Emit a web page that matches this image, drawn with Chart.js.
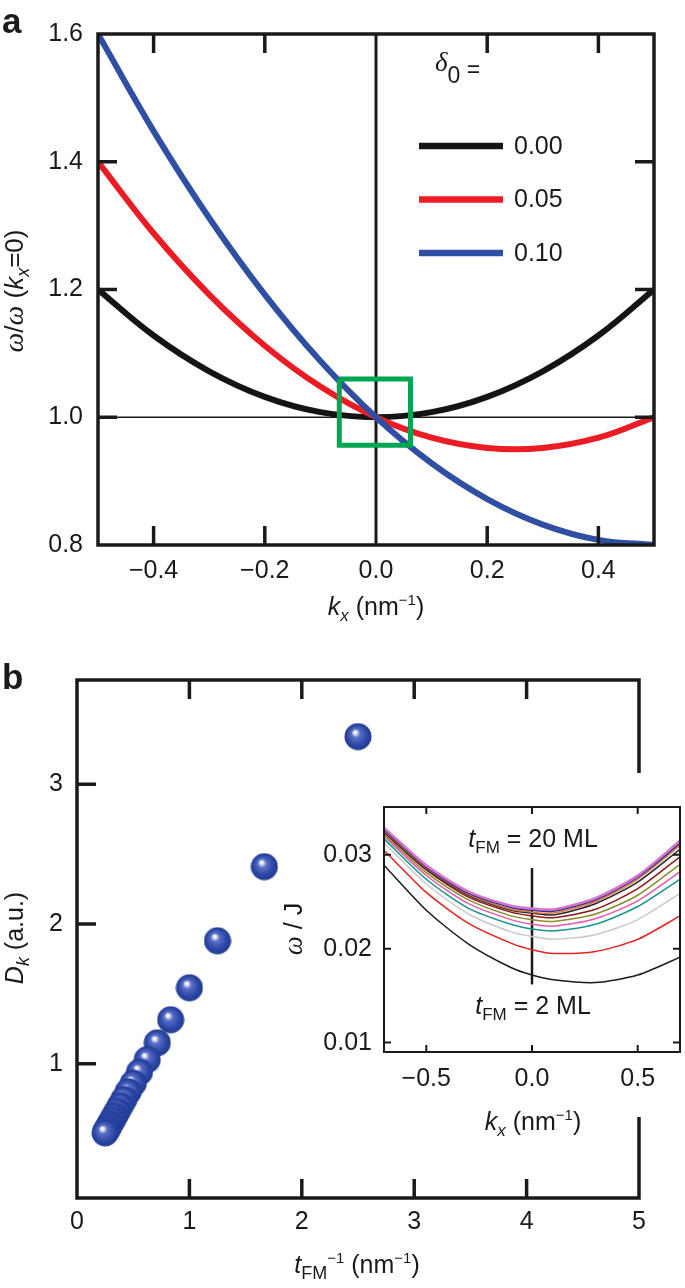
<!DOCTYPE html>
<html>
<head>
<meta charset="utf-8">
<script src="https://cdn.jsdelivr.net/npm/chart.js@4.4.0/dist/chart.umd.min.js"></script>
<style>
  body { margin: 0; background: #fff; }
  #figura { position: relative; width: 685px; height: 1288px; overflow: hidden; }
  canvas { position: absolute; }
</style>
</head>
<body>
<div id="figura">
  <canvas id="chartA" width="685" height="640" style="left:0;top:0"></canvas>
  <canvas id="chartB" width="685" height="648" style="left:0;top:640px"></canvas>
  <canvas id="inset" width="403" height="380" style="left:282px;top:773px"></canvas>
</div>
<script>
// ---- dados painel a ----
const kA = [-0.5, -0.4, -0.3, -0.2, -0.1, 0.0, 0.1, 0.2, 0.3, 0.4, 0.5];
const wDelta000 = [1.200, 1.128, 1.072, 1.032, 1.008, 1.000, 1.008, 1.032, 1.072, 1.128, 1.200];
const wDelta005 = [1.400, 1.288, 1.192, 1.112, 1.048, 1.000, 0.968, 0.952, 0.952, 0.968, 1.000];
const wDelta010 = [1.600, 1.448, 1.312, 1.192, 1.088, 1.000, 0.928, 0.872, 0.832, 0.808, 0.800];
const delta0Labels = ["0.00", "0.05", "0.10"];
const aColors = ["#141414", "#ec1c24", "#2f4fa3"];
const aTicksX = [-0.4, -0.2, 0.0, 0.2, 0.4];
const aTicksY = [0.8, 1.0, 1.2, 1.4, 1.6];
// quadrado verde (em unidades dos eixos)
const boxK = [-0.066, 0.062, 0.062, -0.066, -0.066];
const boxW = [1.060, 1.060, 0.956, 0.956, 1.060];

// ---- dados painel b ----
const invTFM = [2.5, 1.667, 1.25, 1.0, 0.833, 0.714, 0.625, 0.556, 0.5, 0.455,
  0.417, 0.385, 0.357, 0.333, 0.313, 0.294, 0.278, 0.263, 0.25];
const Dk = [3.34, 2.41, 1.88, 1.544, 1.315, 1.15, 1.03, 0.94, 0.86, 0.80,
  0.745, 0.70, 0.66, 0.625, 0.595, 0.57, 0.545, 0.525, 0.506];
const bTicksX = [0, 1, 2, 3, 4, 5];
const bTicksY = [1, 2, 3];

// ---- dados inset ----
const kIn = [-0.7, -0.5, -0.3, -0.1, 0.0, 0.1, 0.3, 0.5, 0.7];
const insetCurves = [
  [0.0289, 0.0241, 0.0205, 0.0180, 0.0172, 0.0167, 0.0164, 0.0172, 0.0191],
  [0.0305, 0.0260, 0.0227, 0.0206, 0.0199, 0.0195, 0.0197, 0.0210, 0.0235],
  [0.0313, 0.0269, 0.0237, 0.0218, 0.0213, 0.0210, 0.0215, 0.0231, 0.0259],
  [0.0317, 0.0274, 0.0243, 0.0226, 0.0221, 0.0219, 0.0226, 0.0245, 0.0274],
  [0.0320, 0.0278, 0.0248, 0.0231, 0.0226, 0.0224, 0.0232, 0.0251, 0.0282],
  [0.0322, 0.0281, 0.0252, 0.0235, 0.0231, 0.0229, 0.0237, 0.0257, 0.0290],
  [0.0324, 0.0284, 0.0255, 0.0239, 0.0235, 0.0233, 0.0242, 0.0264, 0.0298],
  [0.0325, 0.0285, 0.0257, 0.0241, 0.0238, 0.0236, 0.0248, 0.0271, 0.0306],
  [0.0326, 0.0286, 0.0258, 0.0242, 0.0239, 0.0238, 0.0250, 0.0274, 0.0310],
  [0.0327, 0.0287, 0.0259, 0.0244, 0.0241, 0.0240, 0.0252, 0.0276, 0.0312],
  [0.0328, 0.0288, 0.0260, 0.0245, 0.0242, 0.0241, 0.0253, 0.0277, 0.0314],
  [0.0329, 0.0289, 0.0261, 0.0246, 0.0243, 0.0242, 0.0254, 0.0278, 0.0315]
];
const insetColors = ["#1a1a1a", "#e3231f", "#c9c9c9", "#17948f", "#e35aa8", "#8c8a2c",
  "#8e1717", "#222230", "#e0783a", "#2b2f78", "#7a5aa8", "#d873d0"];
const inTicksX = [-0.5, 0.0, 0.5];
const inTicksY = [0.01, 0.02, 0.03];

const SANS = '"Liberation Sans", Arial, Helvetica, sans-serif';
const SERIF = '"Liberation Serif", "DejaVu Serif", serif';
const INK = "#1a1a1a";
const TICK_SIZE = 25;
function f(size, style) { return (style || "") + " " + size + "px " + SANS; }
function fs(size) { return "italic " + size + "px " + SERIF; }

Chart.defaults.font.family = SANS;
Chart.defaults.color = INK;

function fmtSigned(v) { return (v < 0 ? "\u2212" : "") + Math.abs(v).toFixed(1); }

// texto com partes (itálico, subscrito, sobrescrito)
function rich(ctx, runs, x, y, rot, align) {
  ctx.save();
  ctx.translate(x, y);
  if (rot) ctx.rotate(rot);
  ctx.textAlign = "left";
  ctx.textBaseline = "alphabetic";
  ctx.fillStyle = INK;
  let w = 0;
  runs.forEach(r => { ctx.font = r[1]; w += ctx.measureText(r[0]).width; });
  let cx = align === "left" ? 0 : -w / 2;
  runs.forEach(r => {
    ctx.font = r[1];
    ctx.fillText(r[0], cx, r[2] || 0);
    cx += ctx.measureText(r[0]).width;
  });
  ctx.restore();
}

// moldura com ticks para dentro
function framePlugin(cfg) {
  return {
    id: "moldura",
    beforeDraw(chart) {
      if (cfg.bg) cfg.bg(chart);
    },
    beforeDatasetsDraw(chart) {
      if (cfg.under) cfg.under(chart);
    },
    afterDatasetsDraw(chart) {
      const { ctx, chartArea: a, scales } = chart;
      ctx.save();
      ctx.strokeStyle = INK;
      ctx.lineWidth = cfg.lw;
      ctx.lineJoin = "miter";
      ctx.lineCap = "butt";
      ctx.strokeRect(a.left, a.top, a.right - a.left, a.bottom - a.top);
      ctx.beginPath();
      cfg.xMarks.forEach(v => {
        const px = scales.x.getPixelForValue(v);
        ctx.moveTo(px, a.top); ctx.lineTo(px, a.top + cfg.tl);
        ctx.moveTo(px, a.bottom); ctx.lineTo(px, a.bottom - cfg.tl);
      });
      cfg.yMarks.forEach(v => {
        const py = scales.y.getPixelForValue(v);
        ctx.moveTo(a.left, py); ctx.lineTo(a.left + cfg.tl, py);
        if (cfg.rightMarks) { ctx.moveTo(a.right, py); ctx.lineTo(a.right - cfg.tl, py); }
      });
      ctx.stroke();
      ctx.restore();
      if (cfg.over) cfg.over(chart);
    }
  };
}

function linearAxis(min, max, ticksList, fmt, fitSize, pad, horizontal) {
  return {
    type: "linear",
    min: min,
    max: max,
    grid: { display: false, drawTicks: false },
    border: { display: false },
    afterBuildTicks: s => { s.ticks = ticksList.map(v => ({ value: v })); },
    afterFit: s => { if (horizontal) s.height = fitSize; else s.width = fitSize; },
    ticks: { padding: pad, maxRotation: 0, autoSkip: false, font: { size: TICK_SIZE }, color: INK, callback: v => fmt(v) }
  };
}

const baseOpts = {
  responsive: false,
  animation: false,
  events: [],
  plugins: { legend: { display: false }, tooltip: { enabled: false } }
};

// ===== Painel a =====
const seriesA = [wDelta000, wDelta005, wDelta010];
const dsA = seriesA.map((arr, i) => ({
  data: kA.map((k, j) => ({ x: k, y: arr[j] })),
  borderColor: aColors[i],
  borderWidth: 6,
  pointRadius: 0,
  tension: 0.4,
  order: 3 - i
}));
dsA.push({
  data: boxK.map((k, j) => ({ x: k, y: boxW[j] })),
  borderColor: "#00a651",
  borderWidth: 5,
  pointRadius: 0,
  tension: 0,
  borderJoinStyle: "miter",
  order: 0
});

new Chart(document.getElementById("chartA"), {
  type: "line",
  data: { datasets: dsA },
  options: Object.assign({}, baseOpts, {
    layout: { padding: { left: 0, top: 34, right: 31, bottom: 0 } },
    scales: {
      x: linearAxis(-0.5, 0.5, aTicksX, fmtSigned, 95, 11, true),
      y: linearAxis(0.8, 1.6, aTicksY, v => v.toFixed(1), 98, 15, false)
    }
  }),
  plugins: [framePlugin({
    lw: 3.5, tl: 19, rightMarks: true,
    xMarks: [-0.4, -0.2, 0.2, 0.4],
    yMarks: [1.0, 1.2, 1.4],
    under(chart) {
      const { ctx, chartArea: a, scales } = chart;
      const x0 = scales.x.getPixelForValue(0);
      const y1 = scales.y.getPixelForValue(1.0);
      ctx.save();
      ctx.strokeStyle = INK;
      ctx.lineWidth = 1.6;
      ctx.beginPath(); ctx.moveTo(a.left, y1); ctx.lineTo(a.right, y1); ctx.stroke();
      ctx.lineWidth = 3;
      ctx.beginPath(); ctx.moveTo(x0, a.top); ctx.lineTo(x0, a.bottom); ctx.stroke();
      ctx.restore();
    },
    over(chart) {
      const { ctx, chartArea: a } = chart;
      // legenda
      rich(ctx, [["\u03b4", fs(27), 0], ["0", f(23), 12], [" =", f(23), 6]], a.left + 337, 71, 0, "left");
      delta0Labels.forEach((lab, i) => {
        const y = 146 + i * 53.5;
        ctx.save();
        ctx.strokeStyle = aColors[i];
        ctx.lineWidth = 6.5;
        ctx.beginPath(); ctx.moveTo(419, y); ctx.lineTo(503, y); ctx.stroke();
        ctx.fillStyle = INK;
        ctx.font = f(TICK_SIZE);
        ctx.textBaseline = "middle";
        ctx.fillText(lab, 514, y + 1);
        ctx.restore();
      });
      // títulos dos eixos
      rich(ctx, [["k", f(25, "italic")], ["x", f(17, "italic"), 6], [" (nm", f(25)], ["\u22121", f(15), -10], [")", f(25)]],
        (a.left + a.right) / 2, 615);
      rich(ctx, [["\u03c9", fs(28)], ["/", f(26)], ["\u03c9", fs(28)], [" (", f(26)], ["k", f(26, "italic")],
        ["x", f(18, "italic"), 6], ["=0)", f(26)]], 23, 291, -Math.PI / 2);
      ctx.save();
      ctx.fillStyle = INK;
      ctx.font = "bold 35px " + SANS;
      ctx.fillText("a", 2, 33);
      ctx.restore();
    }
  })]
});

// ===== Painel b =====
function esfera(r) {
  const c = document.createElement("canvas");
  c.width = c.height = 2 * r;
  const g = c.getContext("2d");
  const grad = g.createRadialGradient(r - 3, r - 4.5, 0.5, r, r, r);
  grad.addColorStop(0, "#ffffff");
  grad.addColorStop(0.1, "#dfe3f6");
  grad.addColorStop(0.28, "#5a70c6");
  grad.addColorStop(0.7, "#2c47a6");
  grad.addColorStop(1, "#203890");
  g.fillStyle = grad;
  g.beginPath();
  g.arc(r, r, r - 0.5, 0, 2 * Math.PI);
  g.fill();
  return c;
}
const bola = esfera(14);

new Chart(document.getElementById("chartB"), {
  type: "scatter",
  data: {
    datasets: [{
      data: invTFM.map((x, i) => ({ x: x, y: Dk[i] })),
      pointStyle: bola,
      pointRadius: 14,
      clip: false
    }]
  },
  options: Object.assign({}, baseOpts, {
    layout: { padding: { left: 0, top: 40, right: 46, bottom: 0 } },
    scales: {
      x: linearAxis(0, 5, bTicksX, v => String(v), 90, 9, true),
      y: linearAxis(0.04, 3.745, bTicksY, v => String(v), 77, 14, false)
    }
  }),
  plugins: [framePlugin({
    lw: 3.5, tl: 19, rightMarks: false,
    xMarks: [1, 2, 3, 4],
    yMarks: [1, 2, 3],
    over(chart) {
      const { ctx, chartArea: a } = chart;
      rich(ctx, [["t", f(25, "italic")], ["FM", f(18), 6], ["\u22121", f(15), -10], [" (nm", f(25)], ["\u22121", f(15), -10], [")", f(25)]],
        (a.left + a.right) / 2 - 1, 633);
      rich(ctx, [["D", f(25, "italic")], ["k", f(18, "italic"), 6], [" (a.u.)", f(25)]], 23, 298, -Math.PI / 2);
      ctx.save();
      ctx.fillStyle = INK;
      ctx.font = "bold 35px " + SANS;
      ctx.fillText("b", 2, 49);
      ctx.restore();
    }
  })]
});

// ===== Inset =====
const dsIn = insetCurves.map((arr, i) => ({
  data: kIn.map((k, j) => ({ x: k, y: arr[j] })),
  borderColor: insetColors[i],
  borderWidth: i === insetCurves.length - 1 ? 2.4 : 1.5,
  pointRadius: 0,
  tension: 0.25,
  order: -i
}));

new Chart(document.getElementById("inset"), {
  type: "line",
  data: { datasets: dsIn },
  options: Object.assign({}, baseOpts, {
    layout: { padding: { left: 0, top: 34, right: 5, bottom: 0 } },
    scales: {
      x: linearAxis(-0.7, 0.7, inTicksX, fmtSigned, 101, 12, true),
      y: linearAxis(0.009, 0.0351, inTicksY, v => v.toFixed(2), 102, 12, false)
    }
  }),
  plugins: [framePlugin({
    lw: 2, tl: 7, rightMarks: true,
    xMarks: inTicksX,
    yMarks: inTicksY,
    bg(chart) {
      const ctx = chart.ctx;
      ctx.save();
      ctx.fillStyle = "#fff";
      ctx.fillRect(0, 0, chart.width, 344);
      ctx.restore();
    },
    under(chart) {
      const { ctx, scales } = chart;
      const x0 = scales.x.getPixelForValue(0);
      ctx.save();
      ctx.strokeStyle = INK;
      ctx.lineWidth = 2.5;
      ctx.beginPath();
      ctx.moveTo(x0, scales.y.getPixelForValue(0.0286));
      ctx.lineTo(x0, scales.y.getPixelForValue(0.0162));
      ctx.stroke();
      ctx.restore();
    },
    over(chart) {
      const { ctx, chartArea: a, scales } = chart;
      const xc = scales.x.getPixelForValue(0.005);
      rich(ctx, [["t", f(25, "italic")], ["FM", f(17), 6], [" = 20 ML", f(25)]], xc, scales.y.getPixelForValue(0.03085));
      rich(ctx, [["t", f(25, "italic")], ["FM", f(17), 6], [" = 2 ML", f(25)]], xc, scales.y.getPixelForValue(0.0130));
      rich(ctx, [["k", f(25, "italic")], ["x", f(17, "italic"), 6], [" (nm", f(25)], ["\u22121", f(15), -10], [")", f(25)]],
        (a.left + a.right) / 2 + 1, 357);
      rich(ctx, [["\u03c9", fs(27)], [" / J", f(25)]], 20, 156, -Math.PI / 2);
    }
  })]
});
</script>
</body>
</html>
